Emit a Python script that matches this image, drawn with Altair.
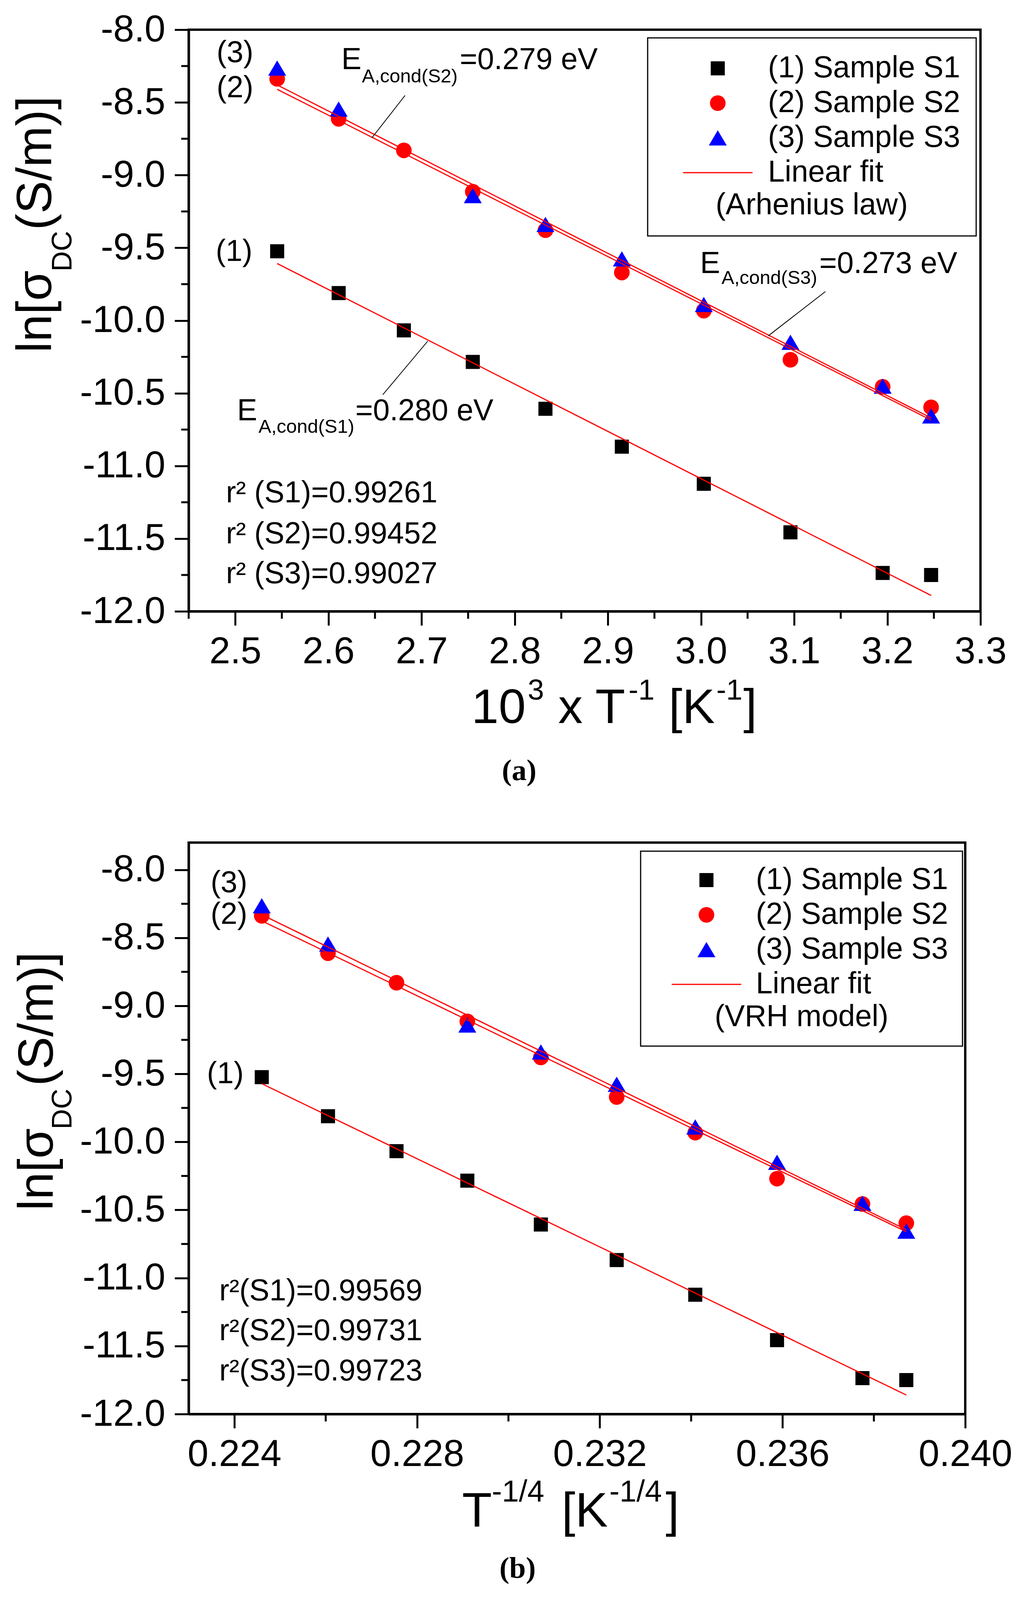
import altair as alt
import pandas as pd

# ---------------- data ----------------
legend_labels = ["(1) Sample S1", "(2) Sample S2", "(3) Sample S3", "Linear fit"]

# x values: 10^3/T (panel a) and T^-1/4 (panel b)
x_arr = [2.545, 2.611, 2.681, 2.755, 2.833, 2.915, 3.003, 3.096, 3.195, 3.247]
x_vrh = [0.22460, 0.22605, 0.22755, 0.22910, 0.23071, 0.23237, 0.23409, 0.23588, 0.23775, 0.23871]
# S3 has no visible point at the 3rd temperature
x_arr_s3 = [2.545, 2.611, 2.755, 2.833, 2.915, 3.003, 3.096, 3.195, 3.247]
x_vrh_s3 = [0.22460, 0.22605, 0.22910, 0.23071, 0.23237, 0.23409, 0.23588, 0.23775, 0.23871]

ln_s1 = [-9.524, -9.811, -10.068, -10.285, -10.607, -10.868, -11.123, -11.457, -11.736, -11.750]
ln_s2 = [-8.338, -8.613, -8.830, -9.114, -9.379, -9.670, -9.932, -10.270, -10.456, -10.597]
ln_s3 = [-8.264, -8.546, -9.141, -9.339, -9.576, -9.890, -10.150, -10.451, -10.656]

# linear-fit end points
fit_a_x = [2.545, 3.247]
fit_a_s1 = [-9.608, -11.891]
fit_a_s2 = [-8.410, -10.685]
fit_a_s3 = [-8.380, -10.670]
fit_b_x = [0.22460, 0.23871]
fit_b_s1 = [-9.572, -11.860]
fit_b_s2 = [-8.375, -10.660]
fit_b_s3 = [-8.330, -10.645]

# annotations panel (a)
ann_a_text = ["E", "=0.279 eV", "E", "=0.273 eV", "E", "=0.280 eV",
              "(3)", "(2)", "(1)",
              "r\u00b2 (S1)=0.99261", "r\u00b2 (S2)=0.99452", "r\u00b2 (S3)=0.99027"]
ann_a_x = [2.614, 2.741, 2.999, 3.127, 2.502, 2.629,
           2.480, 2.480, 2.479,
           2.490, 2.490, 2.490]
ann_a_y = [-8.272, -8.272, -9.673, -9.673, -10.686, -10.686,
           -8.222, -8.465, -9.591,
           -11.251, -11.533, -11.807]
sub_a_text = ["A,cond(S2)", "A,cond(S3)", "A,cond(S1)"]
sub_a_x = [2.636, 3.022, 2.525]
sub_a_y = [-8.362, -9.750, -10.771]
lead_a_x = [2.6823, 3.1335, 2.7066]
lead_a_y = [-8.4521, -9.801, -10.1421]
lead_a_x2 = [2.6467, 3.0723, 2.6584]
lead_a_y2 = [-8.7437, -10.105, -10.5102]

# annotations panel (b)
ann_b_text = ["(3)", "(2)", "(1)",
              "r\u00b2(S1)=0.99569", "r\u00b2(S2)=0.99731", "r\u00b2(S3)=0.99723"]
ann_b_x = [0.22348, 0.22348, 0.22340, 0.22367, 0.22367, 0.22367]
ann_b_y = [-8.166, -8.398, -9.567, -11.165, -11.458, -11.752]

# ticks
xa_major = [2.5, 2.6, 2.7, 2.8, 2.9, 3.0, 3.1, 3.2, 3.3]
xa_minor = [2.45, 2.55, 2.65, 2.75, 2.85, 2.95, 3.05, 3.15, 3.25]
xb_major = [0.224, 0.228, 0.232, 0.236, 0.240]
xb_minor = [0.226, 0.230, 0.234, 0.238]
y_major = [-12.0, -11.5, -11.0, -10.5, -10.0, -9.5, -9.0, -8.5, -8.0]
y_minor = [-11.75, -11.25, -10.75, -10.25, -9.75, -9.25, -8.75, -8.25]

FONT = "Liberation Sans"

# symbol shapes (custom paths in unit box, symbol size 1600 -> 40 px)
shape_range = ["M-0.9,-0.9H0.9V0.9H-0.9Z", "circle",
               "M0,-0.975L1.15,0.975L-1.15,0.975Z", "M-4.45,0H4.45"]
fill_range = ["#000000", "#ff0000", "#0000ff", "transparent"]
stroke_range = ["transparent", "transparent", "transparent", "#ff0000"]


def text_piece(txt, px, py, size, angle=0, font=FONT, weight="normal", align="left"):
    return alt.Chart(pd.DataFrame({"t": [txt]})).mark_text(
        align=align, baseline="alphabetic", font=font, fontSize=size,
        fontWeight=weight, angle=angle, color="black"
    ).encode(x=alt.value(px), y=alt.value(py), text="t:N")


def make_panel(W, H, xdom, ydom, xs, xs3, fit_x, fits, xmaj, xmin, xfmt,
               ann_t, ann_x, ann_y, sub_t, sub_x, sub_y, lead, legend_title,
               lg_x, lg_y, lg_pad, lg_symoff, lg_laboff, xtitle, ytitle, caption):
    xsc = alt.Scale(domain=xdom, nice=False, zero=False)
    ysc = alt.Scale(domain=ydom, nice=False, zero=False)
    xax = alt.Axis(values=xmaj, format=xfmt, title=None, tickSize=36, labelPadding=20,
                   labelFlush=False, labelOverlap=False, labelLimit=1000, grid=False)
    yax = alt.Axis(values=y_major, format=".1f", title=None, tickSize=36, labelPadding=24,
                   labelExpr="replace(datum.label, '\u2212', '-')",
                   labelFlush=False, labelOverlap=False, labelLimit=1000, grid=False)

    def X(f):
        return alt.X(f, scale=xsc, axis=xax)

    def Y(f):
        return alt.Y(f, scale=ysc, axis=yax)

    pts = pd.DataFrame({
        "x": xs + xs + xs3,
        "y": ln_s1 + ln_s2 + ln_s3,
        "series": [legend_labels[0]] * len(xs) + [legend_labels[1]] * len(xs)
                  + [legend_labels[2]] * len(xs3),
    })
    legend = alt.Legend(
        title=legend_title, orient="none", legendX=lg_x, legendY=lg_y,
        titleOrient="bottom", titleAnchor="middle", titleAlign="center",
        titleFont=FONT, titleFontSize=77, titleFontWeight="normal", titleColor="black",
        titlePadding=8, titleLimit=3000,
        labelFont=FONT, labelFontSize=77, labelColor="black", labelLimit=3000,
        labelOffset=lg_laboff, padding=lg_pad, symbolOffset=lg_symoff,
        clipHeight=76, rowPadding=12, symbolSize=1600, symbolStrokeWidth=3,
        symbolFillColor="black", symbolStrokeColor="transparent",
        fillColor="white", strokeColor="black",
    )
    points = alt.Chart(pts).mark_point(filled=True, opacity=1, size=1600).encode(
        x=X("x:Q"),
        y=Y("y:Q"),
        fill=alt.Fill("series:N", scale=alt.Scale(domain=legend_labels, range=fill_range),
                      legend=legend),
        stroke=alt.Stroke("series:N", scale=alt.Scale(domain=legend_labels, range=stroke_range),
                          legend=legend),
        shape=alt.Shape("series:N", scale=alt.Scale(domain=legend_labels, range=shape_range),
                        legend=legend),
    )

    fit_df = pd.DataFrame({
        "x": fit_x * 3,
        "y": fits[0] + fits[1] + fits[2],
        "fit": ["S1"] * 2 + ["S2"] * 2 + ["S3"] * 2,
    })
    lines = alt.Chart(fit_df).mark_line(color="#ff0000", strokeWidth=3).encode(
        x=X("x:Q"), y=Y("y:Q"), detail="fit:N",
    )

    layers = [points, lines]

    if lead is not None:
        lead_df = pd.DataFrame({"x": lead[0], "y": lead[1], "x2": lead[2], "y2": lead[3]})
        layers.append(alt.Chart(lead_df).mark_rule(color="black", strokeWidth=2).encode(
            x=X("x:Q"), y=Y("y:Q"), x2="x2:Q", y2="y2:Q"))

    ann_df = pd.DataFrame({"x": ann_x, "y": ann_y, "t": ann_t})
    layers.append(alt.Chart(ann_df).mark_text(
        align="left", baseline="alphabetic", font=FONT, fontSize=77, color="black"
    ).encode(x=X("x:Q"), y=Y("y:Q"), text="t:N"))
    if sub_t:
        sub_df = pd.DataFrame({"x": sub_x, "y": sub_y, "t": sub_t})
        layers.append(alt.Chart(sub_df).mark_text(
            align="left", baseline="alphabetic", font=FONT, fontSize=49, color="black"
        ).encode(x=X("x:Q"), y=Y("y:Q"), text="t:N"))

    # minor ticks
    layers.append(alt.Chart(pd.DataFrame({"v": xmin})).mark_rule(color="black", strokeWidth=5).encode(
        x=X("v:Q"), y=alt.value(H), y2=alt.value(H + 19)))
    ymin_vis = [v for v in y_minor if ydom[0] <= v <= ydom[1]]
    layers.append(alt.Chart(pd.DataFrame({"v": ymin_vis})).mark_rule(color="black", strokeWidth=5).encode(
        y=Y("v:Q"), x=alt.value(0), x2=alt.value(-19)))

    # axis titles (pieces, to get super/subscripts)
    for (t, px, dy, fs) in xtitle:
        layers.append(text_piece(t, px, H + dy, fs))
    for (t, px, py, fs) in ytitle:
        layers.append(text_piece(t, px, py, fs, angle=270))
    layers.append(text_piece(caption[0], caption[1], H + caption[2], 76,
                             font="Liberation Serif", weight="bold", align="center"))

    return alt.layer(*layers).properties(width=W, height=H)


panel_a = make_panel(
    2027, 1489, [2.45, 3.3], [-12.0, -8.0], x_arr, x_arr_s3, fit_a_x,
    [fit_a_s1, fit_a_s2, fit_a_s3], xa_major, xa_minor, ".1f",
    ann_a_text, ann_a_x, ann_a_y, sub_a_text, sub_a_x, sub_a_y,
    [lead_a_x, lead_a_y, lead_a_x2, lead_a_y2], "(Arhenius law)",
    1175, 21, 40, 101, 90,
    [("10", 724, 286, 125), ("3", 868, 226, 75), ("x T", 946, 286, 125),
     ("-1", 1126, 226, 75), ("[K", 1229, 286, 125), ("-1", 1351, 226, 75),
     ("]", 1420, 286, 125)],
    [("ln[\u03c3", -352, 827, 126), ("DC", -300, 619, 72), ("(S/m)]", -352, 513, 126)],
    ("(a)", 846, 432),
)

panel_b = make_panel(
    1988, 1463, [0.223, 0.240], [-12.0, -7.8], x_vrh, x_vrh_s3, fit_b_x,
    [fit_b_s1, fit_b_s2, fit_b_s3], xb_major, xb_minor, ".3f",
    ann_b_text, ann_b_x, ann_b_y, [], [], [],
    None, "(VRH model)",
    1157, 22, 36, 94, 88,
    [("T", 700, 288, 125), ("-1/4", 776, 224, 78), ("[K", 955, 288, 125),
     ("-1/4", 1077, 224, 78), ("]", 1221, 288, 125)],
    [("ln[\u03c3", -348, 942, 126), ("DC", -300, 734, 72), ("(S/m)]", -348, 623, 126)],
    ("(b)", 842, 419),
)

chart = alt.vconcat(panel_a, panel_b, spacing=139).resolve_scale(
    x="independent", y="independent", fill="independent",
    stroke="independent", shape="independent",
).resolve_legend(
    fill="independent", stroke="independent", shape="independent",
).properties(
    padding={"left": 19, "top": 17, "right": 5, "bottom": 5},
    background="white",
).configure_view(
    stroke="black", strokeWidth=6,
).configure_axis(
    domainColor="black", domainWidth=6, tickColor="black", tickWidth=5,
    labelFont=FONT, labelFontSize=96, labelColor="black", grid=False,
).configure_legend(
    strokeWidth=3,
)

chart.save("out.html", embed_options={"renderer": "svg", "actions": False})
